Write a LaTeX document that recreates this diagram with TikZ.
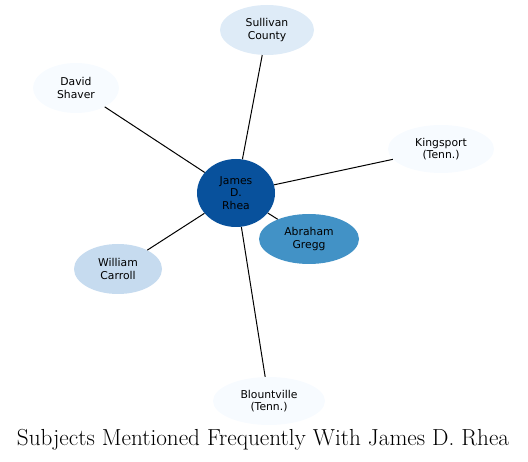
\documentclass[tikz,border=0pt]{standalone}
\usepackage{fontspec}
\usepackage{tikz}
\usetikzlibrary{shapes.geometric}
\newfontfamily\nodefont{DejaVu Sans}
\definecolor{blueA}{RGB}{8,81,156}
\definecolor{blueB}{RGB}{66,146,198}
\definecolor{blueC}{RGB}{198,219,239}
\definecolor{blueD}{RGB}{222,235,247}
\definecolor{blueE}{RGB}{247,251,255}

\begin{document}
\begin{tikzpicture}[x=1pt,y=-1pt]
			\tikzstyle{subject}=[ellipse,inner sep=0pt,font=\nodefont\fontsize{10.8}{12.5}\selectfont,align=center]
			\tikzstyle{link}=[line width=1pt]
			\useasboundingbox (0,0) rectangle (528,462);
			\node (rhea)[subject,fill=blueA,minimum width=78pt,minimum height=68pt] at (236,193) {James\\D.\\Rhea};
			\node (sullivan)[subject,fill=blueD,minimum width=94pt,minimum height=50pt] at (267,30) {Sullivan\\County};
			\node (shaver)[subject,fill=blueE,minimum width=86pt,minimum height=50pt] at (76,88) {David\\Shaver};
			\node (kingsport)[subject,fill=blueE,minimum width=106pt,minimum height=48pt] at (441,149) {Kingsport\\(Tenn.)};
			\node (gregg)[subject,fill=blueB,minimum width=100pt,minimum height=50pt] at (309,239) {Abraham\\Gregg};
			\node (carroll)[subject,fill=blueC,minimum width=88pt,minimum height=50pt] at (118,269) {William\\Carroll};
			\node (blountville)[subject,fill=blueE,minimum width=112pt,minimum height=48pt] at (269,401) {Blountville\\(Tenn.)};
			\draw[link] (rhea) -- (sullivan);
			\draw[link] (rhea) -- (shaver);
			\draw[link] (rhea) -- (kingsport);
			\draw[link] (rhea) -- (gregg);
			\draw[link] (rhea) -- (carroll);
			\draw[link] (rhea) -- (blountville);

			\node (title) at (263,440) {\fontsize{23.2}{26}\selectfont Subjects Mentioned Frequently With James D. Rhea};
		\end{tikzpicture}
\end{document}
